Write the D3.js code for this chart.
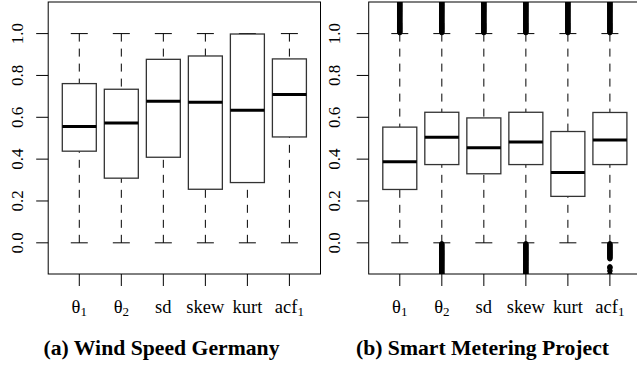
<!DOCTYPE html>
<html><head><meta charset="utf-8">
<script src="https://cdn.jsdelivr.net/npm/d3@7"></script>
<style>body{margin:0;background:#fff}svg{display:block} text{font-family:"Liberation Serif","Times New Roman",Times,serif}</style>
</head><body>
<svg id="c" width="637" height="369"></svg>
<script>
// ---- data ----
const categories = ["θ1", "θ2", "sd", "skew", "kurt", "acf1"];
const yTicks = [0.0, 0.2, 0.4, 0.6, 0.8, 1.0];
const captions = ["(a) Wind Speed Germany", "(b) Smart Metering Project"];

// stats per category: [lower whisker, Q1, median, Q3, upper whisker]
const windStats = [
  [0, 0.438, 0.556, 0.761, 1],
  [0, 0.309, 0.573, 0.734, 1],
  [0, 0.409, 0.677, 0.877, 1],
  [0, 0.256, 0.672, 0.893, 1],
  [0, 0.288, 0.634, 0.998, 1],
  [0, 0.506, 0.709, 0.879, 1]
];
const smartStats = [
  [0, 0.255, 0.387, 0.553, 1],
  [0, 0.374, 0.505, 0.624, 1],
  [0, 0.330, 0.454, 0.597, 1],
  [0, 0.374, 0.482, 0.624, 1],
  [0, 0.222, 0.336, 0.532, 1],
  [0, 0.374, 0.492, 0.623, 1]
];
// outliers (dense runs)
const highRun = [1.005,1.01,1.015,1.02,1.025,1.03,1.035,1.04,1.045,1.05,1.055,1.06,1.065,1.07,1.075,1.08,1.085,1.09,1.095,1.10,1.105,1.11,1.115,1.12,1.125,1.13,1.135,1.14,1.145,1.15,1.155];
const lowRun = [-0.005,-0.01,-0.015,-0.02,-0.025,-0.03,-0.035,-0.04,-0.045,-0.05,-0.055,-0.06,-0.065,-0.07,-0.075,-0.08,-0.085,-0.09,-0.095,-0.10,-0.105,-0.11,-0.115,-0.12,-0.125,-0.13,-0.135,-0.14,-0.145,-0.15,-0.155,-0.16];
const acfLow = [-0.005,-0.01,-0.015,-0.02,-0.025,-0.03,-0.035,-0.04,-0.045,-0.05,-0.055,-0.06,-0.065,-0.07,-0.076,-0.115,-0.12,-0.134,-0.151];
const windOutliers = [[], [], [], [], [], []];
const smartOutliers = [highRun, highRun.concat(lowRun), highRun, highRun.concat(lowRun), highRun, highRun.concat(acfLow)];

// ---- drawing ----
const svg = d3.select("#c");

function panel(idx, stats, outliers, left, labelX, captionX) {
  const top = 2, bottom = 274, width = 272.3;
  const x = d3.scaleLinear().domain([0.26, 6.74]).range([left, left + width]);
  const y = d3.scaleLinear().domain([-0.149, 1.151]).range([bottom, top]);
  const g = svg.append("g");
  const clipId = "clip" + idx;
  svg.append("clipPath").attr("id", clipId).append("rect")
    .attr("x", left).attr("y", top).attr("width", width).attr("height", bottom - top);

  const boxW = 34, stapleW = 17;
  const plot = g.append("g");
  stats.forEach((s, i) => {
    const cx = x(i + 1);
    const c = plot.append("g");
    c.append("line").attr("x1", cx).attr("x2", cx).attr("y1", y(s[0])).attr("y2", y(s[1]))
      .attr("stroke", "#000").attr("stroke-width", 1).attr("stroke-dasharray", "8,7");
    c.append("line").attr("x1", cx).attr("x2", cx).attr("y1", y(s[4])).attr("y2", y(s[3]))
      .attr("stroke", "#000").attr("stroke-width", 1).attr("stroke-dasharray", "8,7");
    [s[0], s[4]].forEach(v => c.append("line")
      .attr("x1", cx - stapleW / 2).attr("x2", cx + stapleW / 2)
      .attr("y1", y(v)).attr("y2", y(v)).attr("stroke", "#000").attr("stroke-width", 1));
    c.append("rect").attr("x", cx - boxW / 2).attr("y", y(s[3]))
      .attr("width", boxW).attr("height", y(s[1]) - y(s[3]))
      .attr("fill", "#fff").attr("stroke", "#333").attr("stroke-width", 1.3);
    c.append("line").attr("x1", cx - boxW / 2).attr("x2", cx + boxW / 2)
      .attr("y1", y(s[2])).attr("y2", y(s[2])).attr("stroke", "#000").attr("stroke-width", 3);
    c.append("g").attr("clip-path", `url(#${clipId})`).selectAll("circle")
      .data(outliers[i]).join("circle")
      .attr("cx", cx).attr("cy", d => y(d)).attr("r", 2.3)
      .attr("fill", "#000").attr("stroke", "#000").attr("stroke-width", 1);
  });

  g.append("rect").attr("x", left).attr("y", top).attr("width", width).attr("height", bottom - top)
    .attr("fill", "none").attr("stroke", "#000").attr("stroke-width", 1);

  yTicks.forEach(t => {
    g.append("line").attr("x1", left - 12).attr("x2", left).attr("y1", y(t)).attr("y2", y(t))
      .attr("stroke", "#000").attr("stroke-width", 1);
    g.append("text").attr("transform", `translate(${labelX},${y(t)}) rotate(-90)`)
      .attr("text-anchor", "middle").attr("font-size", 17)
      .text(t.toFixed(1));
  });

  categories.forEach((cname, i) => {
    const cx = x(i + 1);
    g.append("line").attr("x1", cx).attr("x2", cx).attr("y1", bottom).attr("y2", bottom + 12)
      .attr("stroke", "#000").attr("stroke-width", 1);
    const m = cname.match(/^(\D+)(\d*)$/);
    const txt = g.append("text").attr("x", cx).attr("y", 313).attr("text-anchor", "middle")
      .attr("font-size", 18.5);
    txt.append("tspan").text(m[1]);
    if (m[2]) txt.append("tspan").attr("font-size", 13).attr("dy", 3).text(m[2]);
  });

  svg.append("text").attr("x", captionX).attr("y", 355).attr("text-anchor", "middle")
    .attr("font-weight", "bold").attr("font-size", 21.7)
    .text(captions[idx]);
}

panel(0, windStats, windOutliers, 48.2, 23, 161.5);
panel(1, smartStats, smartOutliers, 368.7, 340, 482.5);
</script>
</body></html>
